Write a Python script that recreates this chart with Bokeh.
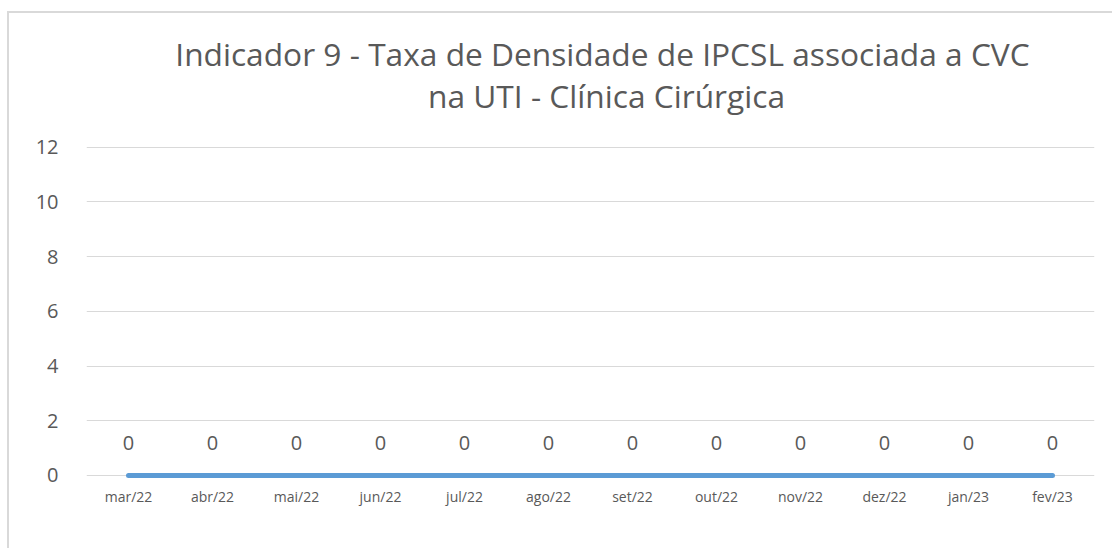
from bokeh.plotting import figure
from bokeh.models import Range1d, ColumnDataSource, Label
from bokeh.core.properties import value
from bokeh.embed import file_html
from bokeh.resources import INLINE

months = ["mar/22", "abr/22", "mai/22", "jun/22", "jul/22", "ago/22",
          "set/22", "out/22", "nov/22", "dez/22", "jan/23", "fev/23"]
rates = [0, 0, 0, 0, 0, 0, 0, 0, 0, 0, 0, 0]
y_ticks = [0, 2, 4, 6, 8, 10, 12]
title_lines = ["Indicador 9 - Taxa de Densidade de IPCSL associada a CVC",
               "na UTI - Clínica Cirúrgica"]

FONT = "Open Sans"
TXT = "#595959"
GRID = "#D9D9D9"

# value axis 0..12 occupies 327 px; headroom above holds the title,
# a few px below 0 keep the thick zero line from being clipped
PX_PER_UNIT = 327 / 12
Y_TOP = 12 + 133 / PX_PER_UNIT
Y_BOTTOM = -5 / PX_PER_UNIT

p = figure(x_range=months, y_range=Range1d(Y_BOTTOM, Y_TOP), width=1105, height=537,
           output_backend="svg", toolbar_location=None, title=None,
           min_border_left=77, min_border_right=20, min_border_top=0, min_border_bottom=70)
p.margin = (11, 0, 0, 7)
p.styles = {"border-top": "2px solid #D9D9D9", "border-left": "2px solid #D9D9D9"}

title_offsets = [(12, 94), (16, 52)]
for line, (dx, dy) in zip(title_lines, title_offsets):
    p.add_layout(Label(x=len(months) / 2, y=max(y_ticks), x_units="data", y_units="data",
                       x_offset=dx, y_offset=dy, text=line, text_align="center",
                       text_baseline="alphabetic", text_font=FONT, text_font_size="31.7px",
                       text_color=TXT))

p.outline_line_color = None
p.border_fill_color = "white"
p.background_fill_color = "white"

src = ColumnDataSource(dict(m=months, v=rates, t=[str(r) for r in rates]))
p.line("m", "v", source=src, line_color="#5B9BD5", line_width=5, line_cap="round")
p.text("m", "v", text="t", source=src, text_align="center", text_baseline="alphabetic",
       y_offset=-32, text_font=value(FONT), text_font_size="20px", text_color=TXT)

p.xgrid.grid_line_color = None
p.ygrid.grid_line_color = GRID
p.ygrid.grid_line_width = 1
p.yaxis.ticker = y_ticks
p.yaxis.axis_line_color = None
p.yaxis.major_tick_line_color = None
p.yaxis.minor_tick_line_color = None
p.yaxis.major_label_text_font = FONT
p.yaxis.major_label_text_font_size = "20px"
p.yaxis.major_label_text_color = TXT
p.yaxis.major_label_standoff = 22

p.xaxis.axis_line_color = None
p.xaxis.major_tick_line_color = None
p.xaxis.major_label_text_font = FONT
p.xaxis.major_label_text_font_size = "14px"
p.xaxis.major_label_text_color = TXT
p.xaxis.major_label_standoff = 0

p.x_range.range_padding = 0

open("out.html", "w").write(file_html(p, INLINE))
